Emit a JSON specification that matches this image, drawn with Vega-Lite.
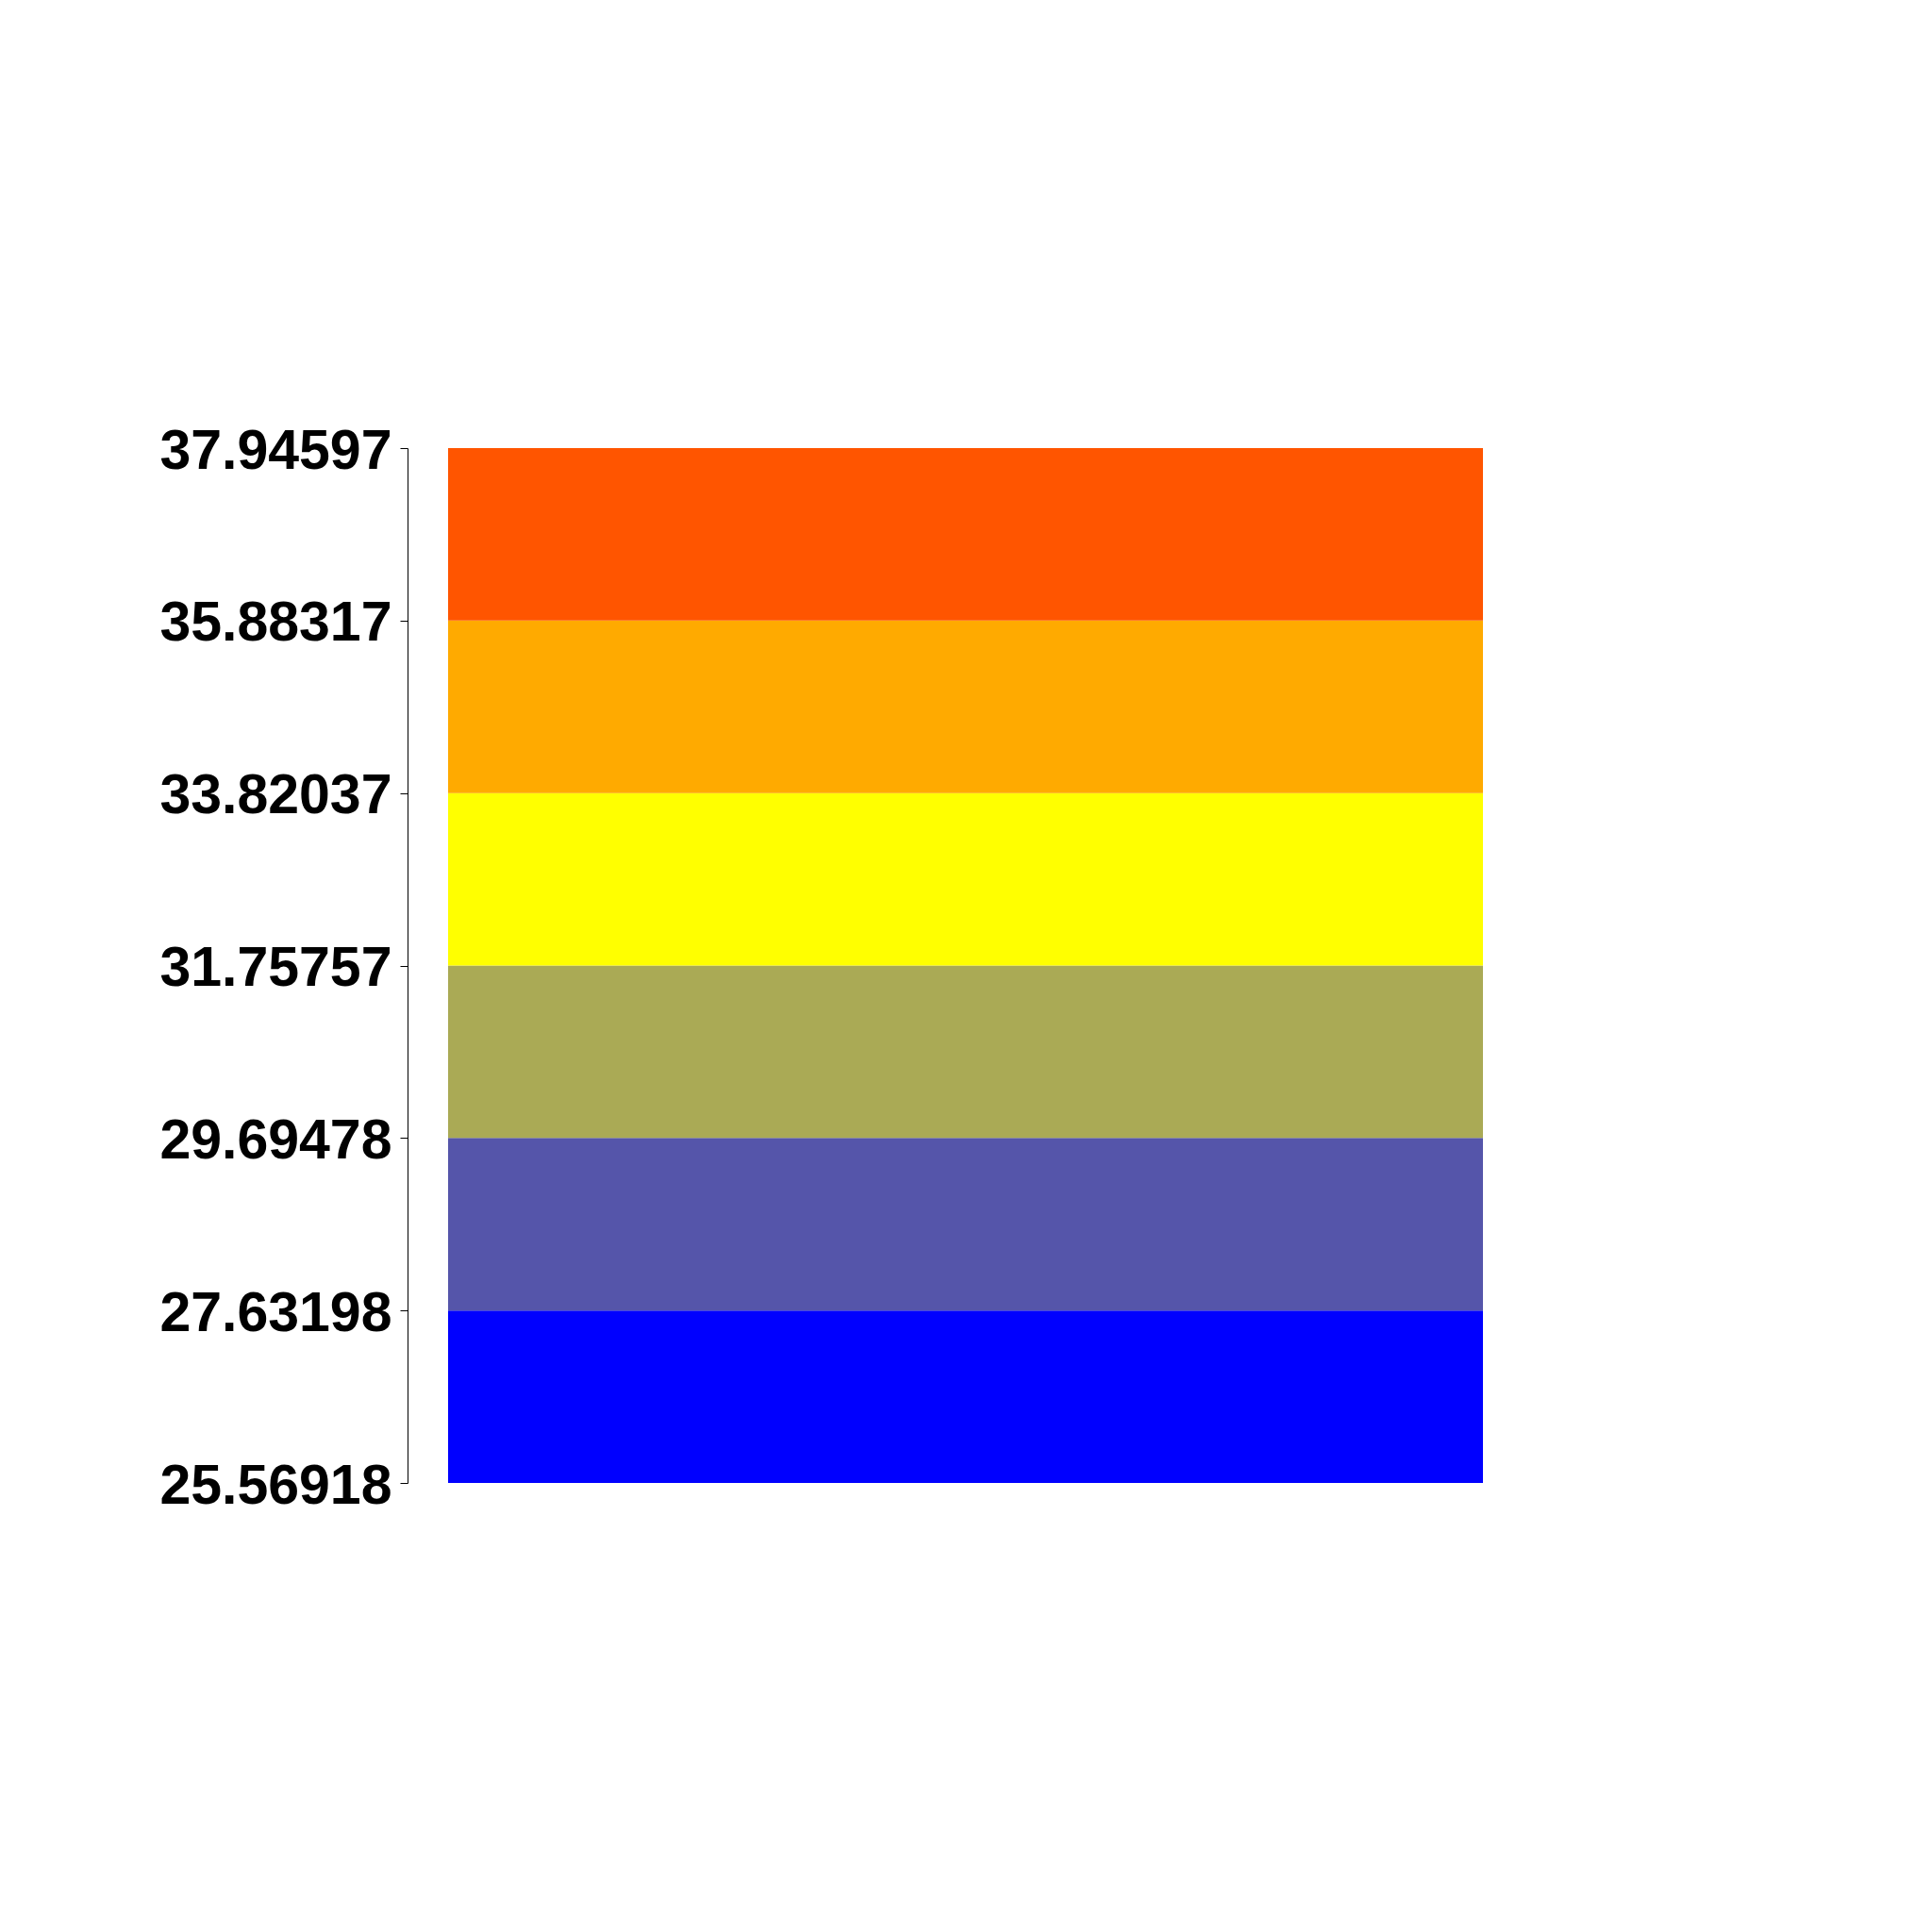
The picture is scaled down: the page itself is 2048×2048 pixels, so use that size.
{
  "$schema": "https://vega.github.io/schema/vega-lite/v6.json",
  "width": 1097,
  "height": 1097,
  "autosize": {"type": "none"},
  "padding": {"left": 475, "top": 475, "right": 476, "bottom": 476},
  "background": "white",
  "config": {"view": {"stroke": null}},
  "data": {
    "values": [
      {"lo": 25.56918, "hi": 27.63198, "color": "#0000FF"},
      {"lo": 27.63198, "hi": 29.69478, "color": "#5555AA"},
      {"lo": 29.69478, "hi": 31.75757, "color": "#AAAA55"},
      {"lo": 31.75757, "hi": 33.82037, "color": "#FFFF00"},
      {"lo": 33.82037, "hi": 35.88317, "color": "#FFAA00"},
      {"lo": 35.88317, "hi": 37.94597, "color": "#FF5500"}
    ]
  },
  "mark": {"type": "rect"},
  "encoding": {
    "y": {
      "field": "lo",
      "type": "quantitative",
      "scale": {"domain": [25.56918, 37.94597], "nice": false, "zero": false},
      "axis": {
        "values": [25.56918, 27.63198, 29.69478, 31.75757, 33.82037, 35.88317, 37.94597],
        "format": ".5f",
        "title": null,
        "grid": false,
        "offset": 43,
        "domainColor": "black",
        "domainWidth": 1,
        "tickColor": "black",
        "tickWidth": 1,
        "tickSize": 8,
        "labelPadding": 9,
        "labelFont": "Liberation Sans",
        "labelFontWeight": "bold",
        "labelFontSize": 59,
        "labelColor": "black",
        "labelBaseline": "middle",
        "labelOffset": 3,
        "labelLimit": 0,
        "labelOverlap": false,
        "labelBound": false,
        "labelFlush": false
      }
    },
    "y2": {"field": "hi"},
    "color": {"field": "color", "type": "nominal", "scale": null, "legend": null}
  }
}
